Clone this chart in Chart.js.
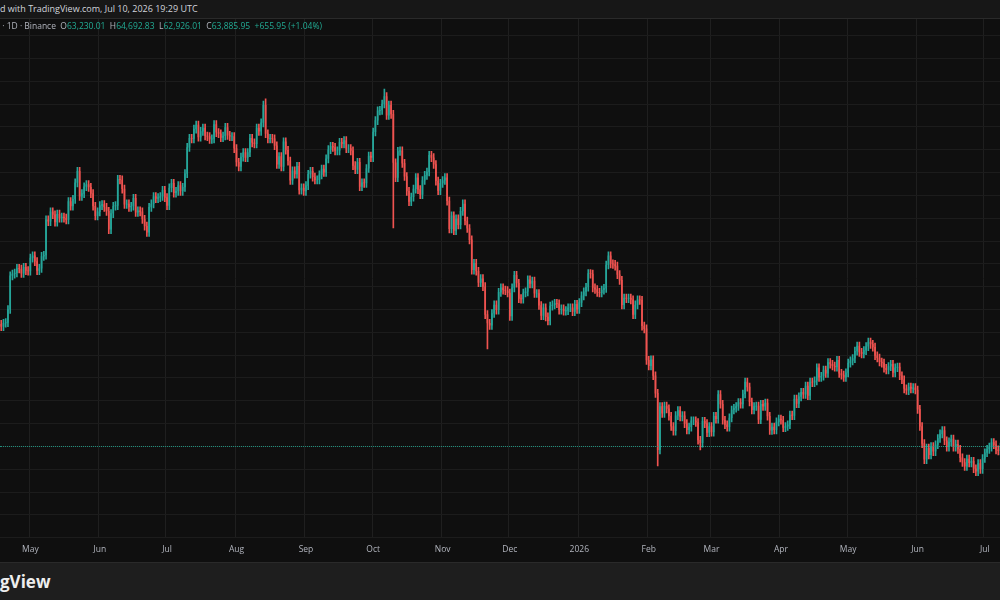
<!DOCTYPE html>
<html><head><meta charset="utf-8">
<script src="https://cdn.jsdelivr.net/npm/chart.js@4.4.1/dist/chart.umd.min.js"></script>
<style>
html,body{margin:0;padding:0;width:1000px;height:600px;overflow:hidden;background:#0f0f0f;font-family:"Open Sans",Roboto,sans-serif}
#top{position:absolute;left:0;top:0;width:1000px;height:18px;background:#171717;border-bottom:1px solid #2a2a2a;color:#d1d4dc;font-size:9px;line-height:18px;white-space:nowrap;z-index:3}
#legend{position:absolute;left:0;top:19px;height:14px;font-size:8.5px;color:#b2b5be;line-height:14px;white-space:nowrap;z-index:2}
#legend .g{color:#22ab94}
#wrap{position:absolute;left:-8px;top:19px;width:1020px;height:543px}
#bottom{position:absolute;left:0;top:562px;width:1000px;height:38px;background:#1e1e1e;border-top:1px solid #2a2a2a;color:#eee;font-weight:bold;font-size:17px;line-height:38px;z-index:3}
#pl{position:absolute;left:0;top:446px;width:1000px;border-top:1px dotted #22ab94;opacity:.8}
</style></head><body>
<div id="top">d with TradingView.com, Jul 10, 2026 19:29 UTC</div>
<div id="legend">&nbsp;· 1D · Binance &nbsp;O<span class="g">63,230.01</span> &nbsp;H<span class="g">64,692.83</span> &nbsp;L<span class="g">62,926.01</span> &nbsp;C<span class="g">63,885.95</span> &nbsp;<span class="g">+655.95 (+1.04%)</span></div>
<div id="wrap"><canvas id="c"></canvas></div>
<div id="pl"></div>
<div id="bottom">gView</div>
<script>
const startDate = [2025, 3, 17]; // Apr 17, 2025
const firstOpen = 84.5;
const closes2025 = [
84.9,84.5,85.1,85.2,87.5,93.4,93.7,93.9,94.7,94.6,93.8,94.9,94.3,94.2,
96.5,96.9,95.9,94.3,94.7,96.8,97.0,103.2,102.9,104.6,104.1,102.8,104.2,103.5,103.7,103.5,103.2,106.4,105.6,106.8,109.7,111.7,107.3,107.8,109.0,109.4,108.9,107.8,105.6,103.9,104.6,
105.7,105.9,105.4,104.7,101.5,104.3,105.6,105.7,110.3,110.2,108.6,105.9,106.0,105.4,105.6,107.0,104.5,104.8,104.6,103.3,102.1,101.0,105.4,106.0,107.3,106.9,107.1,107.3,108.4,107.1,
105.7,108.8,109.6,107.9,108.2,109.2,108.2,108.9,111.3,115.9,117.5,117.4,119.1,119.8,117.7,118.7,119.3,117.9,117.8,117.3,117.4,119.9,118.5,118.3,117.6,117.9,119.4,118.0,117.8,117.8,115.7,
113.3,112.5,114.2,115.0,114.1,115.0,117.5,116.7,116.5,119.3,118.7,120.2,123.3,118.3,117.4,117.5,117.4,116.2,112.9,114.3,112.5,116.9,115.4,113.5,110.1,111.8,111.2,112.6,108.4,108.8,108.2,
109.2,111.2,111.7,110.7,110.2,110.2,111.1,112.1,111.5,113.9,115.5,116.1,115.9,115.3,115.3,116.8,116.5,117.1,115.7,115.7,115.3,112.7,112.0,113.3,109.0,109.7,109.6,112.2,114.4,114.1,
118.6,120.6,122.3,122.4,123.5,124.8,121.5,123.3,121.7,113.2,110.6,115.2,115.3,113.1,110.8,108.2,106.4,107.2,108.6,110.6,108.5,107.6,110.1,111.0,111.6,114.5,114.1,112.9,110.0,108.3,109.6,
110.1,110.6,106.5,101.6,103.9,101.3,103.4,102.3,104.7,106.0,103.0,101.7,99.7,94.4,95.6,94.2,92.2,92.9,91.5,86.6,85.1,84.7,86.8,88.3,87.4,90.5,91.3,90.9,90.8,90.4,
86.3,91.3,93.5,92.1,89.4,89.3,90.4,90.6,92.7,92.0,92.5,90.3,90.3,88.2,86.4,87.8,86.2,85.5,88.1,88.3,88.6,88.5,87.4,87.6,87.2,87.3,87.8,87.8,87.1,88.4,87.5];
const closes2026 = [
88.7,89.9,90.6,91.4,93.8,93.7,91.3,91.0,90.5,90.4,90.9,91.2,95.3,96.9,95.5,95.4,95.1,93.6,92.6,88.3,89.5,89.4,89.5,89.2,86.6,88.3,89.2,89.1,84.6,84.1,78.6,
77.6,78.7,75.9,72.8,62.9,70.5,69.3,70.6,70.1,68.8,67.0,66.2,68.9,69.8,68.7,68.9,67.5,66.4,66.9,68.0,68.0,67.7,64.6,64.1,67.9,67.5,65.9,67.0,
66.0,68.8,68.3,72.6,70.9,68.1,67.3,66.9,68.5,69.9,70.2,70.5,71.2,70.9,72.7,74.8,73.9,71.3,69.9,70.5,70.6,68.2,70.9,70.5,71.1,68.8,66.3,66.9,66.4,67.8,68.3,
68.1,66.8,67.0,67.3,69.0,68.9,71.8,71.0,72.2,73.0,72.6,74.1,72.4,74.8,74.7,75.0,77.3,75.6,75.8,76.9,76.3,78.2,77.9,77.6,77.4,78.6,76.3,76.0,75.6,76.4,
78.1,78.5,78.9,80.2,81.1,80.0,79.7,80.3,81.0,81.8,81.4,80.9,79.4,79.0,78.3,78.1,77.2,76.9,77.5,77.9,76.4,77.3,77.4,75.9,75.2,73.6,73.3,73.9,73.6,73.8,73.4,
70.0,67.0,64.0,61.2,63.2,62.0,63.5,62.6,63.8,64.9,65.7,66.3,64.5,63.4,64.3,64.8,63.4,63.9,63.0,61.5,60.7,60.0,61.3,60.6,60.9,59.6,59.1,60.5,59.5,61.4,
62.4,63.0,63.4,64.2,63.8,62.9,62.7,63.4,63.23,63.886];
const closes = closes2025.concat(closes2026);
const typicalWick = 0.7;
// notable wick extremes: [date, low, high]
const specialWicks = [["2025-08-14",null,124.4],["2025-10-06",null,126.1],["2025-10-10",101.8,null],["2025-11-21",80.6,null],["2026-01-14",null,97.6],["2026-02-05",60.1,null],["2026-02-24",62.9,null],["2026-07-10",62.926,64.693]];
const yMin = 47.5, yMax = 138.4, yStep = 4;
const monthNames = ["Jan","Feb","Mar","Apr","May","Jun","Jul","Aug","Sep","Oct","Nov","Dec"];

const labels = [], tickText = [];
for (let i = 0; i < closes.length; i++) {
  const d = new Date(Date.UTC(startDate[0], startDate[1], startDate[2] + i));
  labels.push(d.toISOString().slice(0,10));
  tickText.push(d.getUTCDate() === 1 ? (d.getUTCMonth() === 0 ? String(d.getUTCFullYear()) : monthNames[d.getUTCMonth()]) : "");
}
const opens = closes.map((c,i)=> i===0 ? firstOpen : closes[i-1]);
opens[opens.length-1] = 63.230;
const highs = closes.map((c,i)=> Math.max(c,opens[i]) + typicalWick);
const lows = closes.map((c,i)=> Math.min(c,opens[i]) - typicalWick);
specialWicks.forEach(([lab,lo,hi])=>{const i=labels.indexOf(lab); if(i<0)return; if(lo!=null)lows[i]=lo; if(hi!=null)highs[i]=hi;});
const UP='#26a69a', DN='#ef5350';
const cols = closes.map((c,i)=> c>=opens[i]?UP:DN);

new Chart(document.getElementById('c'), {
  type:'bar',
  data:{labels, datasets:[
    {data: closes.map((c,i)=>[lows[i],highs[i]]), backgroundColor:cols, barThickness:1, grouped:false, order:2},
    {data: closes.map((c,i)=>[Math.min(c,opens[i]), Math.max(c,opens[i])+0.05]), backgroundColor:cols, barPercentage:0.7, categoryPercentage:1, grouped:false, order:1}
  ]},
  options:{responsive:true, maintainAspectRatio:false, animation:false,
    layout:{padding:0},
    plugins:{legend:{display:false}, tooltip:{enabled:false}},
    scales:{
      x:{grid:{color:ctx=> (ctx.tick && tickText[ctx.tick.value]) ? '#1f1f1f' : 'rgba(0,0,0,0)', drawTicks:false},
         border:{display:false},
         ticks:{autoSkip:false, maxRotation:0, color:'#b2b5be', font:{size:8.5, family:'Open Sans'}, padding:7,
           callback:(v)=>tickText[v]}},
      y:{min:yMin, max:yMax, grid:{color:'#1c1c1c', drawTicks:false}, border:{display:false},
         ticks:{display:false},
         afterBuildTicks:(ax)=>{const t=[];for(let v=yMin;v<=yMax;v+=yStep)t.push({value:v});ax.ticks=t;}}
    }
  }
});
</script>
</body></html>
